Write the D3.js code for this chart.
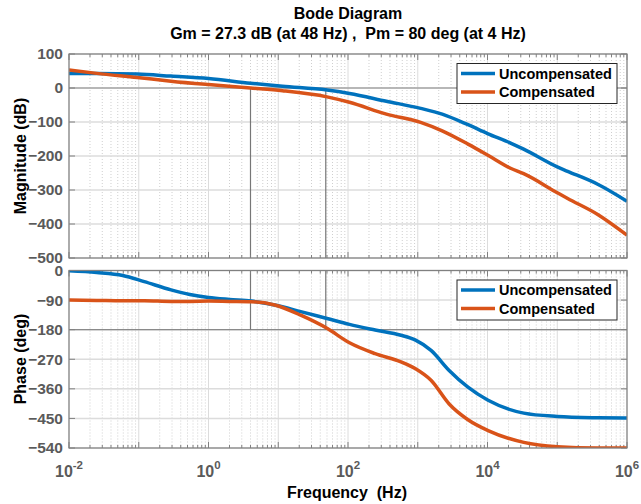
<!DOCTYPE html>
<html>
<head>
<meta charset="utf-8">
<script src="https://cdn.jsdelivr.net/npm/d3@7"></script>
<style>
  body { margin: 0; background: #fff; }
  text { font-family: "Liberation Sans", Arial, sans-serif; font-weight: bold; }
</style>
</head>
<body>
<script>
// data (Hz / dB / deg)
var magFreq = [0.01, 0.025, 0.095, 0.29, 1, 4, 11.5, 50, 105, 355, 1100, 2240, 5250, 10000, 21400, 33000, 100000, 141000, 380000, 1000000];
var magUncomp = [43, 43, 41, 35, 28, 14, 5, -6, -16, -39, -60, -77, -108, -134, -162, -180, -232, -245, -283, -333];
var magComp = [53, 43, 31, 20, 10, 0, -8, -26, -42, -77, -101, -126, -165, -197, -236, -252, -308, -325, -372, -433];

var phFreq = [0.01, 0.025, 0.059, 0.12, 0.29, 0.54, 1, 2, 4.1, 8.9, 21, 50, 105, 245, 575, 930, 1550, 2820, 5250, 10200, 33100, 100000, 380000, 1000000];
var phUncomp = [-1, -6, -15, -34, -59, -73, -82, -88, -93, -105, -125, -146, -164, -181, -197, -212, -243, -304, -355, -395, -434, -444, -448, -449];
var phComp = [-90, -91, -92, -92, -94, -94, -93, -94, -95, -105, -136, -176, -220, -253, -278, -299, -334, -406, -454, -487, -523, -536, -540, -540];

var magTicks = [100, 0, -100, -200, -300, -400, -500];
var phTicks = [0, -90, -180, -270, -360, -450, -540];
var decadeExps = [-2, 0, 2, 4, 6];
var seriesNames = ['Uncompensated', 'Compensated'];
var seriesColors = ['#0072BD', '#D95319'];
var marginFreqs = [4, 48];

var svgWidth = 641, svgHeight = 504;
var left = 69, right = 627;

var svg = d3.select('body').append('svg').attr('width', svgWidth).attr('height', svgHeight);

var x = d3.scaleLog().domain([1e-2, 1e6]).range([left, right]);
var yMag = d3.scaleLinear().domain([-500, 100]).range([258, 54]);
var yPh = d3.scaleLinear().domain([-540, 0]).range([448, 270.5]);

// minor frequencies 2..9 per decade
var minorFreqs = [];
for (var e = -2; e < 6; e++) {
  for (var k = 2; k <= 9; k++) minorFreqs.push(k * Math.pow(10, e));
}
var majorFreqs = d3.range(-2, 7).map(function (e) { return Math.pow(10, e); });

function drawPanel(id, y, ticks, freqs, series, refLevel, margMode) {
  var top = y.range()[1], bottom = y.range()[0];
  var g = svg.append('g');

  g.append('clipPath').attr('id', id).append('rect')
    .attr('x', left).attr('y', top).attr('width', right - left).attr('height', bottom - top);

  // minor grid
  g.selectAll('.minor').data(minorFreqs).enter().append('line')
    .attr('x1', function (d) { return x(d); }).attr('x2', function (d) { return x(d); })
    .attr('y1', top).attr('y2', bottom)
    .attr('stroke', '#cfcfcf').attr('stroke-width', 1).attr('stroke-dasharray', '1,2');

  // major grid
  g.selectAll('.majx').data(majorFreqs).enter().append('line')
    .attr('x1', function (d) { return x(d); }).attr('x2', function (d) { return x(d); })
    .attr('y1', top).attr('y2', bottom)
    .attr('stroke', '#dcdcdc').attr('stroke-width', 1);
  g.selectAll('.majy').data(ticks).enter().append('line')
    .attr('x1', left).attr('x2', right)
    .attr('y1', function (d) { return y(d); }).attr('y2', function (d) { return y(d); })
    .attr('stroke', '#dcdcdc').attr('stroke-width', 1.5);

  // margin reference lines
  g.append('line').attr('x1', left).attr('x2', right)
    .attr('y1', y(refLevel)).attr('y2', y(refLevel))
    .attr('stroke', '#8a8a8a').attr('stroke-width', 1.2);
  g.selectAll('.marg').data(marginFreqs).enter().append('line')
    .attr('x1', function (d) { return x(d); }).attr('x2', function (d) { return x(d); })
    .attr('y1', margMode === 'down' ? y(refLevel) : top)
    .attr('y2', margMode === 'down' ? bottom : y(refLevel))
    .attr('stroke', '#777').attr('stroke-width', 1.2);

  // tick marks (inside, mirrored)
  g.selectAll('.tmin').data(minorFreqs).enter().append('path')
    .attr('d', function (d) { return 'M' + x(d) + ',' + bottom + 'v-3M' + x(d) + ',' + top + 'v3'; })
    .attr('stroke', '#808080').attr('stroke-width', 1);
  g.selectAll('.tmaj').data(majorFreqs).enter().append('path')
    .attr('d', function (d) { return 'M' + x(d) + ',' + bottom + 'v-6M' + x(d) + ',' + top + 'v6'; })
    .attr('stroke', '#808080').attr('stroke-width', 1);
  g.selectAll('.ty').data(ticks).enter().append('path')
    .attr('d', function (d) { return 'M' + left + ',' + y(d) + 'h6M' + right + ',' + y(d) + 'h-6'; })
    .attr('stroke', '#808080').attr('stroke-width', 1);

  // curves
  var line = d3.line()
    .x(function (d) { return x(d[0]); })
    .y(function (d) { return y(d[1]); })
    .curve(d3.curveMonotoneX);
  g.append('g').attr('clip-path', 'url(#' + id + ')')
    .selectAll('path').data(series).enter().append('path')
    .attr('d', function (s) { return line(freqs.map(function (f, i) { return [f, s[i]]; })); })
    .attr('fill', 'none')
    .attr('stroke', function (s, i) { return seriesColors[i]; })
    .attr('stroke-width', 3.5);

  // frame
  g.append('rect').attr('x', left).attr('y', top).attr('width', right - left).attr('height', bottom - top)
    .attr('fill', 'none').attr('stroke', '#808080').attr('stroke-width', 1.2);

  // y labels
  var ax = g.append('g').attr('transform', 'translate(' + left + ',0)')
    .call(d3.axisLeft(y).tickValues(ticks).tickSize(0).tickPadding(6));
  ax.select('.domain').remove();
  ax.selectAll('text').attr('fill', '#5a5a5a').style('font-size', '15.5px').style('font-family', '"Liberation Sans", Arial, sans-serif');

  // legend
  var lg = g.append('g').attr('transform', 'translate(457,' + (top + 9.5) + ')');
  lg.append('rect').attr('width', 160).attr('height', 40)
    .attr('fill', '#fff').attr('stroke', '#262626').attr('stroke-width', 1);
  seriesNames.forEach(function (name, i) {
    var ly = 10 + i * 18.5;
    lg.append('line').attr('x1', 4).attr('x2', 38).attr('y1', ly).attr('y2', ly)
      .attr('stroke', seriesColors[i]).attr('stroke-width', 3.5);
    lg.append('text').attr('x', 42).attr('y', ly + 5).attr('fill', '#000')
      .style('font-size', '14.5px').text(name);
  });
}

drawPanel('clipMag', yMag, magTicks, magFreq, [magUncomp, magComp], 0, 'down');
drawPanel('clipPh', yPh, phTicks, phFreq, [phUncomp, phComp], -180, 'up');

// x tick labels with superscripts
var xl = svg.append('g').selectAll('text').data(decadeExps).enter().append('text')
  .attr('x', function (d) { return x(Math.pow(10, d)); })
  .attr('y', 477)
  .attr('text-anchor', 'middle')
  .attr('fill', '#5a5a5a')
  .style('font-size', '16px');
xl.append('tspan').text('10');
xl.append('tspan').attr('dy', -8).style('font-size', '11.5px').text(function (d) { return d; });

// titles and axis labels
svg.append('text').attr('x', 348).attr('y', 19).attr('text-anchor', 'middle')
  .style('font-size', '16px').text('Bode Diagram');
svg.append('text').attr('x', 348).attr('y', 39).attr('text-anchor', 'middle')
  .style('font-size', '16px').style('white-space', 'pre')
  .text('Gm = 27.3 dB (at 48 Hz) ,  Pm = 80 deg (at 4 Hz)');
svg.append('text').attr('transform', 'translate(26,156) rotate(-90)').attr('text-anchor', 'middle')
  .style('font-size', '16px').text('Magnitude (dB)');
svg.append('text').attr('transform', 'translate(26,359) rotate(-90)').attr('text-anchor', 'middle')
  .style('font-size', '16px').text('Phase (deg)');
svg.append('text').attr('x', 347).attr('y', 498).attr('text-anchor', 'middle')
  .style('font-size', '16px').style('white-space', 'pre').text('Frequency  (Hz)');
</script>
</body>
</html>
